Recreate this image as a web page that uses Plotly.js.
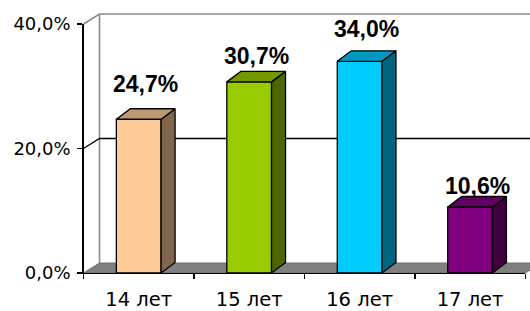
<!DOCTYPE html>
<html>
<head>
<meta charset="utf-8">
<script src="https://cdn.plot.ly/plotly-3.0.1.min.js"></script>
<style>html,body{margin:0;padding:0;background:#fff;}#chart{width:530px;height:311px;}</style>
</head>
<body>
<div id="chart"></div>
<script>
// ---- data ----
const categories = ['14 лет', '15 лет', '16 лет', '17 лет'];
const values = [24.7, 30.7, 34.0, 10.6];
const frontColors = ['#FFCC99', '#99CC00', '#00CCFF', '#800080'];
const sideColors  = ['#80664D', '#4D6600', '#006680', '#400040'];
const topColors   = ['#BF9973', '#739900', '#0099BF', '#600060'];
const yTicks = [0, 20, 40];
const yTickText = yTicks.map(t => t.toFixed(1).replace('.', ',') + '%');

// ---- layout constants (pixels) ----
const W = 530, H = 311;
const X0 = 83.5, XS = 110.45;       // px of x=-0.5, px per category
const Y0 = 273, YS = 249 / 40;      // px of y=0, px per percent
const WDX = 16 / XS, WDY = 10 / YS; // wall depth in data units
const BDX = 14 / XS, BDY = 10.5 / YS; // bar depth
const BW = 0.405;                   // bar width
const labelLift = [35, 26, 32, 21]; // px above front top (label centre)

const n = categories.length;
const xMin = -0.5, xMax = n - 0.5, yMax = 40;
const bgX = [xMin - X0 / XS, xMin + (W - X0) / XS];
const bgY = [-(H - Y0) / YS, Y0 / YS];
const idx = categories.map((_, i) => i);

const traces = [];
// floor
traces.push({
  type: 'scatter', xaxis: 'x', yaxis: 'y', mode: 'lines', fill: 'toself',
  x: [xMin, xMax, xMax + WDX, xMin + WDX, xMin],
  y: [0, 0, WDY, WDY, 0],
  fillcolor: '#808080', line: {color: '#6e6e6e', width: 1}, hoverinfo: 'skip', showlegend: false
});
// wall outlines (grey)
traces.push({
  type: 'scatter', xaxis: 'x', yaxis: 'y', mode: 'lines',
  x: [xMin + WDX, xMin + WDX, null, xMin, xMin + WDX, xMax + 2],
  y: [WDY, yMax + WDY, null, yMax, yMax + WDY, yMax + WDY],
  line: {color: '#8a8a8a', width: 1.6}, hoverinfo: 'skip', showlegend: false
});
// gridline at 20 (on left & back walls)
traces.push({
  type: 'scatter', xaxis: 'x', yaxis: 'y', mode: 'lines',
  x: [xMin, xMin + WDX, xMax + 2],
  y: [yTicks[1], yTicks[1] + WDY, yTicks[1] + WDY],
  line: {color: '#000', width: 1.3}, hoverinfo: 'skip', showlegend: false
});

// bars (front faces)
traces.push({
  type: 'bar', xaxis: 'x2', yaxis: 'y2', x: idx, y: values, width: BW,
  marker: {color: frontColors, line: {color: '#000', width: 1.3}},
  hoverinfo: 'skip', showlegend: false
});
// side and top faces
values.forEach((v, i) => {
  const r = i + BW / 2, l = i - BW / 2;
  traces.push({
    type: 'scatter', xaxis: 'x2', yaxis: 'y2', mode: 'lines', fill: 'toself',
    x: [r, r + BDX, r + BDX, r, r], y: [0, BDY, v + BDY, v, 0],
    fillcolor: sideColors[i], line: {color: '#000', width: 1.3}, hoverinfo: 'skip', showlegend: false
  });
  traces.push({
    type: 'scatter', xaxis: 'x2', yaxis: 'y2', mode: 'lines', fill: 'toself',
    x: [l, r, r + BDX, l + BDX, l], y: [v, v, v + BDY, v + BDY, v],
    fillcolor: topColors[i], line: {color: '#000', width: 1.3}, hoverinfo: 'skip', showlegend: false
  });
});

const annotations = values.map((v, i) => ({
  xref: 'x2', yref: 'y2', x: i + BDX / 2, y: v, yshift: labelLift[i],
  xanchor: 'center', yanchor: 'middle', showarrow: false,
  text: '<b>' + v.toFixed(1).replace('.', ',') + '%</b>',
  font: {family: 'Liberation Sans, Arial, sans-serif', size: 23, color: '#000'}
}));

const layout = {
  width: W, height: H,
  margin: {l: 0, r: 0, t: 0, b: 0, pad: 0},
  paper_bgcolor: '#fff', plot_bgcolor: 'rgba(0,0,0,0)',
  showlegend: false,
  xaxis: {domain: [0, 1], range: bgX, visible: false, anchor: 'y', fixedrange: true},
  yaxis: {domain: [0, 1], range: bgY, visible: false, anchor: 'x', fixedrange: true},
  xaxis2: {
    domain: [X0 / W, (X0 + n * XS) / W], range: [xMin, xMax], anchor: 'y2',
    showline: true, linecolor: '#000', linewidth: 1.3, showgrid: false, zeroline: false,
    tickmode: 'array', tickvals: idx, ticktext: categories, ticks: '',
    tickfont: {family: 'DejaVu Sans', size: 19.5, color: '#000'}, ticklabelstandoff: 8,
    minor: {tickmode: 'array', tickvals: idx.concat([n]).map(i => i - 0.5), ticks: 'outside',
            ticklen: 5, tickcolor: '#000', tickwidth: 1.3, showgrid: false},
    fixedrange: true
  },
  yaxis2: {
    domain: [(H - Y0) / H, (H - (Y0 - yMax * YS)) / H], range: [0, yMax], anchor: 'x2',
    showline: true, linecolor: '#000', linewidth: 1.3, showgrid: false, zeroline: false,
    tickmode: 'array', tickvals: yTicks, ticktext: yTickText,
    ticks: 'outside', ticklen: 5, tickcolor: '#000', tickwidth: 1.3,
    tickfont: {family: 'DejaVu Sans', size: 18, color: '#000'}, ticklabelstandoff: 3,
    fixedrange: true
  },
  annotations: annotations
};

Plotly.newPlot('chart', traces, layout, {staticPlot: true, displayModeBar: false});
</script>
</body>
</html>
